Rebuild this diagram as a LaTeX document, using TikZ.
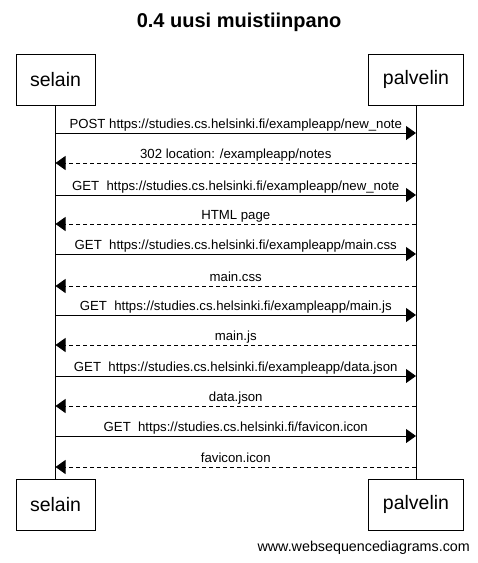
\documentclass[tikz,border=0pt]{standalone}
\usepackage{fontspec}
\setmainfont{Liberation Sans}
\usepackage{tikz}
\usetikzlibrary{arrows.meta}
\usetikzlibrary{calc}

\begin{document}
\begin{tikzpicture}[x=1pt,y=-1pt,
  every node/.style={align=center},
  actor/.style={draw=black,rectangle,line width=0.9pt,minimum height=51pt,inner xsep=14pt,font=\fontsize{19.5}{22}\selectfont},
  call/.style={line width=0.9pt,-{Triangle[length=10pt,width=14pt]}},
  reply/.style={line width=0.9pt,dash pattern=on 4pt off 3pt,-{Triangle[length=10pt,width=14pt]}},
  lbl/.style={above,inner sep=1pt,text depth=3pt,font=\fontsize{13.2}{15}\selectfont}]

\useasboundingbox (0,0) rectangle (478,563);

\draw node[font=\bfseries\fontsize{20}{24}\selectfont] at (239,22) (title) {0.4 uusi muistiinpano};

\draw node[actor] at (55.5,79.5) (selT) {selain};
\draw node[actor] at (416,79.5) (palT) {palvelin};
\draw node[actor] at (55.5,504.5) (selB) {selain};
\draw node[actor] at (416,504.5) (palB) {palvelin};

\draw[line width=0.9pt] (selT.south) -- (selB.north);
\draw[line width=0.9pt] (palT.south) -- (palB.north);

% message rows on the lifelines
\foreach \y [count=\i] in {133,163,195,224,254,286,315,345,376,406,436,467}
{
  \coordinate (s\i) at (selT.south |- 0,\y);
  \coordinate (p\i) at (palT.south |- 0,\y);
}

\draw[call] (s1) -- node[lbl] {POST https://studies.cs.helsinki.fi/exampleapp/new\_note} (p1);
\draw[reply] (p2) -- node[lbl] {302 location: /exampleapp/notes} (s2);
\draw[call] (s3) -- node[lbl] {GET\ \ https://studies.cs.helsinki.fi/exampleapp/new\_note} (p3);
\draw[reply] (p4) -- node[lbl] {HTML page} (s4);
\draw[call] (s5) -- node[lbl] {GET\ \ https://studies.cs.helsinki.fi/exampleapp/main.css} (p5);
\draw[reply] (p6) -- node[lbl] {main.css} (s6);
\draw[call] (s7) -- node[lbl] {GET\ \ https://studies.cs.helsinki.fi/exampleapp/main.js} (p7);
\draw[reply] (p8) -- node[lbl] {main.js} (s8);
\draw[call] (s9) -- node[lbl] {GET\ \ https://studies.cs.helsinki.fi/exampleapp/data.json} (p9);
\draw[reply] (p10) -- node[lbl] {data.json} (s10);
\draw[call] (s11) -- node[lbl] {GET\ \ https://studies.cs.helsinki.fi/favicon.icon} (p11);
\draw[reply] (p12) -- node[lbl] {favicon.icon} (s12);

\draw node[anchor=east,inner sep=0pt,font=\fontsize{14.3}{16}\selectfont] at (470,548) (site) {www.websequencediagrams.com};

\end{tikzpicture}
\end{document}
